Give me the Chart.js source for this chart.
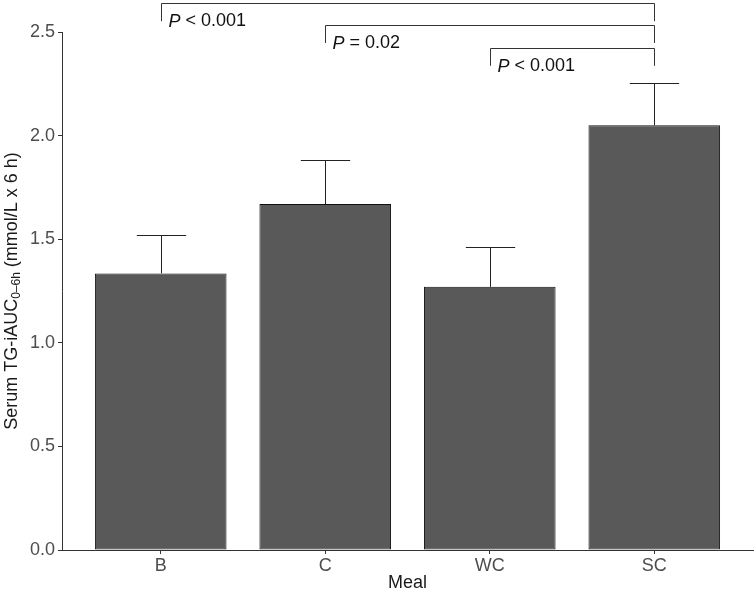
<!DOCTYPE html>
<html>
<head>
<meta charset="utf-8">
<script src="https://cdn.jsdelivr.net/npm/chart.js@4.4.1/dist/chart.umd.min.js"></script>
<style>
    html, body { margin: 0; padding: 0; background: #ffffff; }
    #wrap { width: 756px; height: 593px; }
</style>
</head>
<body>
<div id="wrap"><canvas id="mealChart" width="756" height="593"></canvas></div>
<script>

// ==========================
// DATA
// ==========================

const meals = ["B", "C", "WC", "SC"];
const meanAUC = [1.335, 1.67, 1.27, 2.05];
const upperAUC = [1.52, 1.88, 1.46, 2.255];
const yTicks = [0, 0.5, 1.0, 1.5, 2.0, 2.5];

// significance brackets (meal index from / to, height, label)
const bracketFrom = [0, 1, 2];
const bracketTo = [3, 3, 3];
const bracketY = [2.64, 2.535, 2.425];
const bracketText = ["< 0.001", "= 0.02", "< 0.001"];

const FONT = "'Liberation Sans', Arial, sans-serif";

// error bars + brackets + y title
const extrasPlugin = {
    id: "extras",
    afterDatasetsDraw(chart) {
        const ctx = chart.ctx;
        const x = chart.scales.x;
        const y = chart.scales.y;

        ctx.save();
        ctx.strokeStyle = "#222222";
        ctx.lineWidth = 1;

        // upper error bars
        meanAUC.forEach((m, i) => {
            const cx = Math.round(x.getPixelForValue(i + 1)) + 0.5;
            const yTop = y.getPixelForValue(upperAUC[i]);
            const yBar = y.getPixelForValue(m);
            const half = x.getPixelForValue(i + 1.15) - x.getPixelForValue(i + 1);
            ctx.beginPath();
            ctx.moveTo(cx, yBar);
            ctx.lineTo(cx, Math.round(yTop) + 0.5);
            ctx.moveTo(cx - half, Math.round(yTop) + 0.5);
            ctx.lineTo(cx + half, Math.round(yTop) + 0.5);
            ctx.stroke();
        });

        // brackets
        ctx.strokeStyle = "#333333";
        bracketY.forEach((h, k) => {
            const x1 = Math.round(x.getPixelForValue(bracketFrom[k] + 1)) + 0.5;
            const x2 = Math.round(x.getPixelForValue(bracketTo[k] + 1)) + 0.5;
            const yb = Math.round(y.getPixelForValue(h)) + 0.5;
            const yt = y.getPixelForValue(h - 0.088);
            ctx.beginPath();
            ctx.moveTo(x1, yt);
            ctx.lineTo(x1, yb);
            ctx.lineTo(x2, yb);
            ctx.lineTo(x2, yt);
            ctx.stroke();

            // label: italic P + rest
            ctx.fillStyle = "#111111";
            ctx.textBaseline = "middle";
            ctx.textAlign = "left";
            const tx = x1 + 7;
            const ty = yb + 18;
            ctx.font = "italic 18px " + FONT;
            ctx.fillText("P", tx, ty);
            const pw = ctx.measureText("P").width;
            ctx.font = "18px " + FONT;
            ctx.fillText(" " + bracketText[k], tx + pw, ty);
        });

        // y axis title with subscript
        const midY = (chart.chartArea.top + chart.chartArea.bottom) / 2;
        ctx.translate(12, midY);
        ctx.rotate(-Math.PI / 2);
        ctx.fillStyle = "#1a1a1a";
        ctx.textBaseline = "middle";
        const parts = [
            ["Serum TG-iAUC", "18px " + FONT, 0],
            ["0\u20136h", "12px " + FONT, 4.5],
            [" (mmol/L x 6 h)", "18px " + FONT, 0]
        ];
        let total = 0;
        parts.forEach(p => { ctx.font = p[1]; total += ctx.measureText(p[0]).width; });
        let px = -total / 2;
        ctx.textAlign = "left";
        parts.forEach(p => {
            ctx.font = p[1];
            ctx.fillText(p[0], px, p[2]);
            px += ctx.measureText(p[0]).width;
        });

        ctx.restore();
    }
};

window.addEventListener("load", () => {

    const canvas = document.getElementById("mealChart");

    new Chart(canvas, {
        type: "bar",

        data: {
            datasets: [{
                label: "TG-iAUC",
                data: meanAUC.map((v, i) => ({ x: i + 1, y: v })),
                backgroundColor: "#595959",
                borderColor: "#111111",
                borderWidth: 1,
                borderSkipped: false,
                barPercentage: 0.8,
                categoryPercentage: 1.0
            }]
        },

        options: {
            responsive: false,
            animation: false,
            layout: {
                padding: { top: 32, right: 3, left: 0, bottom: 0 }
            },
            plugins: {
                legend: { display: false },
                tooltip: { enabled: false }
            },
            scales: {
                x: {
                    type: "linear",
                    offset: false,
                    min: 0.4,
                    max: 4.6,
                    afterBuildTicks: (scale) => {
                        scale.ticks = meals.map((m, i) => ({ value: i + 1 }));
                    },
                    afterFit: (scale) => { scale.height = 43; },
                    ticks: {
                        callback: (v) => meals[Math.round(v) - 1],
                        color: "#4d4d4d",
                        font: { family: FONT, size: 18 },
                        padding: 1,
                        maxRotation: 0
                    },
                    grid: {
                        offset: false,
                        drawOnChartArea: false,
                        drawTicks: true,
                        tickLength: 4,
                        color: "#333333"
                    },
                    border: { display: true, color: "#333333", width: 1 },
                    title: {
                        display: true,
                        text: "Meal",
                        color: "#1a1a1a",
                        font: { family: FONT, size: 18 },
                        padding: { top: 0, bottom: -1 }
                    }
                },
                y: {
                    min: 0,
                    max: 2.5,
                    afterBuildTicks: (scale) => {
                        scale.ticks = yTicks.map(v => ({ value: v }));
                    },
                    afterFit: (scale) => { scale.width = 62; },
                    ticks: {
                        callback: (v) => v.toFixed(1),
                        color: "#4d4d4d",
                        font: { family: FONT, size: 18 },
                        padding: 3
                    },
                    grid: {
                        drawOnChartArea: false,
                        drawTicks: true,
                        tickLength: 4,
                        color: "#333333"
                    },
                    border: { display: true, color: "#333333", width: 1 }
                }
            }
        },

        plugins: [extrasPlugin]
    });

});
</script>
</body>
</html>
